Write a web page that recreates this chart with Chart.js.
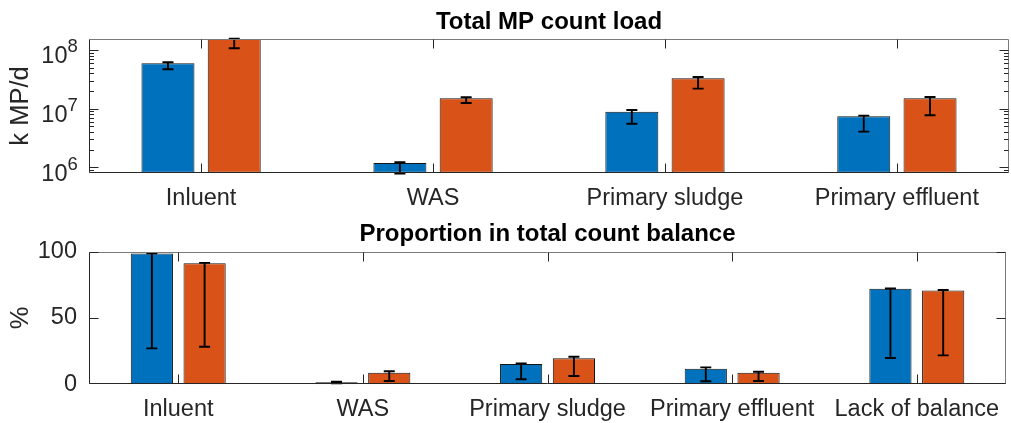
<!DOCTYPE html>
<html>
<head>
<meta charset="utf-8">
<script src="https://cdn.jsdelivr.net/npm/chart.js@4.4.1/dist/chart.umd.min.js"></script>
<style>
  html, body { margin: 0; padding: 0; background: #fff; }
  #wrap { position: relative; width: 1011px; height: 423px; overflow: hidden; background: #fff; }
  canvas { position: absolute; left: 0; }
  #loadCanvas { top: 0; }
  #shareCanvas { top: 211px; }
</style>
</head>
<body>
<div id="wrap">
  <canvas id="loadCanvas" width="1011" height="211"></canvas>
  <canvas id="shareCanvas" width="1011" height="212"></canvas>
</div>
<script>
// Sample streams
const loadCategories = ['Inluent', 'WAS', 'Primary sludge', 'Primary effluent'];
const shareCategories = ['Inluent', 'WAS', 'Primary sludge', 'Primary effluent', 'Lack of balance'];

// Total MP count load (k MP/d): first series (blue) and second series (orange)
const loadA     = [5.93e7, 1.18e6, 8.87e6, 7.41e6];
const loadB     = [1.55e8, 1.50e7, 3.29e7, 1.50e7];
const loadALow  = [4.69e7, 7.8e5, 5.54e6, 4.05e6];
const loadAHigh = [6.17e7, 1.22e6, 9.48e6, 7.59e6];
const loadBLow  = [1.07e8, 1.25e7, 2.19e7, 7.71e6];
const loadBHigh = [1.55e8, 1.56e7, 3.47e7, 1.58e7];

// Proportion in total count balance (%)
const shareA     = [98.7, 1.6, 15.3, 11.8, 72.1];
const shareB     = [91.2, 8.8, 19.6, 8.8, 70.8];
const shareALow  = [27.1, 0.7, 3.8, 2.3, 19.8];
const shareAHigh = [98.7, 2.0, 15.8, 12.8, 72.3];
const shareBLow  = [28.3, 2.5, 6.3, 2.5, 21.8];
const shareBHigh = [91.6, 9.8, 20.8, 9.5, 71.1];

// Axis ticks
const loadTickExponents = [6, 7, 8];
const shareTicks = [0, 50, 100];

const BLUE = '#0072BD';
const ORANGE = '#D95319';
const AXIS = '#262626';
const FONT = "'Liberation Sans', Arial, Helvetica, sans-serif";

Chart.defaults.font.family = FONT;
Chart.defaults.color = AXIS;

function barDataset(values, color, low, high) {
  return {
    data: values.map((v, i) => ({ x: i + 1, y: v })),
    backgroundColor: color,
    borderColor: '#141414',
    borderWidth: 1,
    borderSkipped: false,
    categoryPercentage: 2 / 3.5,
    barPercentage: 0.8,
    clip: 0,
    errLow: low,
    errHigh: high
  };
}

// Box, inward tick marks, error bars and power-of-ten labels
const boxAxes = {
  id: 'boxAxes',
  afterDatasetsDraw(chart) {
    const ctx = chart.ctx;
    const ys = chart.scales.y;
    ctx.save();
    ctx.strokeStyle = '#000';
    ctx.lineWidth = 1.9;
    chart.data.datasets.forEach((ds, di) => {
      const meta = chart.getDatasetMeta(di);
      meta.data.forEach((bar, j) => {
        const x = bar.x;
        const yl = ys.getPixelForValue(ds.errLow[j]);
        const yh = ys.getPixelForValue(ds.errHigh[j]);
        ctx.beginPath();
        ctx.moveTo(x, yl); ctx.lineTo(x, yh);
        ctx.moveTo(x - 5.5, yl); ctx.lineTo(x + 5.5, yl);
        ctx.moveTo(x - 5.5, yh); ctx.lineTo(x + 5.5, yh);
        ctx.stroke();
      });
    });
    ctx.restore();
  },
  afterDraw(chart, args, opts) {
    const { ctx, chartArea: a } = chart;
    const xs = chart.scales.x, ys = chart.scales.y;
    const L = Math.round(a.left) + 0.5, R = Math.round(a.right) - 0.5;
    const T = Math.round(a.top) + 0.5, B = Math.round(a.bottom) - 0.5;
    const yPix = v => Math.min(B, Math.max(T, Math.round(ys.getPixelForValue(v)) + 0.5));
    ctx.save();
    ctx.lineWidth = 1;
    // frame
    ctx.strokeStyle = '#7a7a7a';
    ctx.beginPath();
    ctx.moveTo(L, T); ctx.lineTo(R, T); ctx.lineTo(R, B);
    ctx.stroke();
    ctx.strokeStyle = AXIS;
    ctx.beginPath();
    ctx.moveTo(L, T); ctx.lineTo(L, B); ctx.lineTo(R, B);
    ctx.stroke();
    // ticks
    ctx.strokeStyle = AXIS;
    ctx.beginPath();
    xs.ticks.forEach(t => {
      const x = Math.round(xs.getPixelForValue(t.value)) + 0.5;
      ctx.moveTo(x, B); ctx.lineTo(x, B - 9);
      ctx.moveTo(x, T); ctx.lineTo(x, T + 9);
    });
    (opts.yMajor || []).forEach(v => {
      const y = yPix(v);
      ctx.moveTo(L, y); ctx.lineTo(L + 9, y);
      ctx.moveTo(R, y); ctx.lineTo(R - 9, y);
    });
    (opts.yMinor || []).forEach(v => {
      const y = yPix(v);
      ctx.moveTo(L, y); ctx.lineTo(L + 4.5, y);
      ctx.moveTo(R, y); ctx.lineTo(R - 4.5, y);
    });
    ctx.stroke();
    // 10^n labels
    if (opts.logExponents) {
      ctx.fillStyle = AXIS;
      ctx.textBaseline = 'alphabetic';
      opts.logExponents.forEach(e => {
        const y = ys.getPixelForValue(Math.pow(10, e));
        ctx.font = '23.5px ' + FONT;
        ctx.textAlign = 'right';
        ctx.fillText('10', 67.5, y + 13.5);
        ctx.font = '18.5px ' + FONT;
        ctx.textAlign = 'left';
        ctx.fillText(String(e), 67.5, y + 2.5);
      });
    }
    ctx.restore();
  }
};

function categoryAxis(categories, height) {
  return {
    type: 'linear',
    min: 0.5167,
    max: categories.length + 0.4833,
    bounds: 'data',
    offset: false,
    grid: { display: false, drawTicks: false },
    border: { display: false },
    afterBuildTicks: s => { s.ticks = categories.map((c, i) => ({ value: i + 1 })); },
    ticks: {
      callback: v => categories[v - 1],
      font: { size: 23.5 },
      color: AXIS,
      padding: 11.4,
      maxRotation: 0,
      autoSkip: false
    },
    afterFit: s => { s.height = height; }
  };
}

function logMinorTicks(min, max) {
  const out = [];
  for (let e = Math.floor(Math.log10(min)); e <= Math.ceil(Math.log10(max)); e++) {
    for (let k = 2; k <= 9; k++) {
      const v = k * Math.pow(10, e);
      if (v >= min && v <= max) out.push(v);
    }
  }
  return out;
}

const loadMin = 8.09e5, loadMax = 1.52e8;

new Chart(document.getElementById('loadCanvas'), {
  type: 'bar',
  data: {
    datasets: [
      barDataset(loadA, BLUE, loadALow, loadAHigh),
      barDataset(loadB, ORANGE, loadBLow, loadBHigh)
    ]
  },
  options: {
    responsive: false,
    animation: false,
    events: [],
    layout: { padding: { left: 0, right: 2, top: 0, bottom: 0 } },
    plugins: {
      legend: { display: false },
      tooltip: { enabled: false },
      title: {
        display: true,
        fullSize: false,
        text: 'Total MP count load',
        color: '#000',
        font: { size: 24, weight: 'bold' },
        padding: { top: 8.4, bottom: 2.1 }
      },
      boxAxes: {
        yMajor: loadTickExponents.map(e => Math.pow(10, e)),
        yMinor: logMinorTicks(loadMin, loadMax),
        logExponents: loadTickExponents
      }
    },
    scales: {
      x: categoryAxis(loadCategories, 38.3),
      y: {
        type: 'logarithmic',
        min: loadMin,
        max: loadMax,
        bounds: 'data',
        beginAtZero: false,
        grid: { display: false, drawTicks: false },
        border: { display: false },
        ticks: { display: false },
        title: {
          display: true,
          text: 'k MP/d',
          color: AXIS,
          font: { size: 25.5 },
          padding: { top: 5.7, bottom: 0 }
        },
        afterFit: s => { s.width = 89; }
      }
    }
  },
  plugins: [boxAxes]
});

new Chart(document.getElementById('shareCanvas'), {
  type: 'bar',
  data: {
    datasets: [
      barDataset(shareA, BLUE, shareALow, shareAHigh),
      barDataset(shareB, ORANGE, shareBLow, shareBHigh)
    ]
  },
  options: {
    responsive: false,
    animation: false,
    events: [],
    layout: { padding: { left: 0, right: 1, top: 0, bottom: 0 } },
    plugins: {
      legend: { display: false },
      tooltip: { enabled: false },
      title: {
        display: true,
        fullSize: false,
        text: 'Proportion in total count balance',
        color: '#000',
        font: { size: 24, weight: 'bold' },
        padding: { top: 8.6, bottom: 3.3 }
      },
      boxAxes: {
        yMajor: shareTicks,
        yMinor: []
      }
    },
    scales: {
      x: categoryAxis(shareCategories, 38.7),
      y: {
        type: 'linear',
        min: 0,
        max: 100,
        bounds: 'data',
        grid: { display: false, drawTicks: false },
        border: { display: false },
        afterBuildTicks: s => { s.ticks = shareTicks.map(v => ({ value: v })); },
        ticks: { font: { size: 23.5 }, color: AXIS, padding: 12 },
        title: {
          display: true,
          text: '%',
          color: AXIS,
          font: { size: 25.5 },
          padding: { top: 5.7, bottom: 0 }
        },
        afterFit: s => { s.width = 89; }
      }
    }
  },
  plugins: [boxAxes]
});
</script>
</body>
</html>
